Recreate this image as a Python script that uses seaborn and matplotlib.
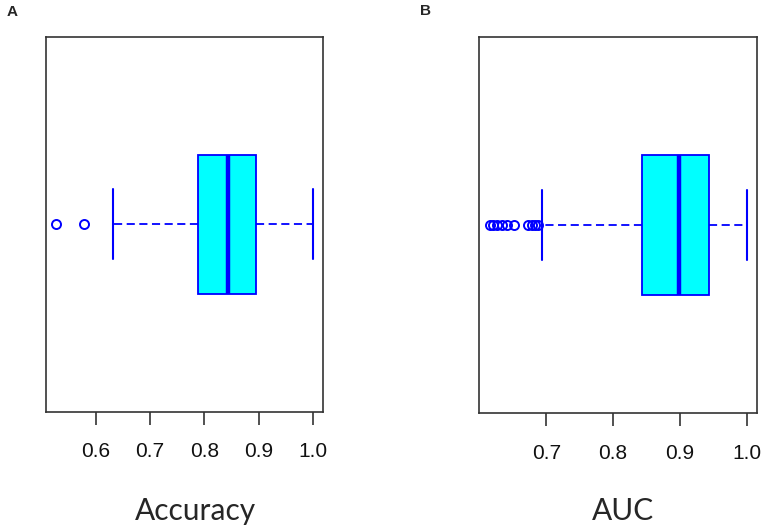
import numpy as np
import pandas as pd
import matplotlib
matplotlib.use("Agg")
import matplotlib.pyplot as plt
import seaborn as sns

# Summary values
acc_outliers = [0.527, 0.579]
acc_whislo, acc_q1, acc_med, acc_q3, acc_whishi = 0.632, 0.789, 0.843, 0.895, 1.0
acc_ticks = [0.6, 0.7, 0.8, 0.9, 1.0]

auc_outliers = [0.615, 0.620, 0.626, 0.633, 0.641, 0.651, 0.673, 0.678, 0.683, 0.688]
auc_whislo, auc_q1, auc_med, auc_q3, auc_whishi = 0.694, 0.843, 0.898, 0.944, 1.0
auc_ticks = [0.7, 0.8, 0.9, 1.0]


def sample_from_summary(outliers, wlo, q1, med, q3, whi):
    # Values whose quartiles/whiskers/outliers equal the read summary
    L = len(outliers) + 1
    return list(outliers) + [wlo] + [q1] * L + [med] * L + [q3] * L + [whi]


sns.set_theme(style="white")
plt.rcParams["font.family"] = ["Liberation Sans", "DejaVu Sans"]

fig = plt.figure(figsize=(7.65, 5.31), dpi=100)
axA = fig.add_axes([46 / 765, 1 - 411.7 / 531, 277 / 765, 375 / 531])
axB = fig.add_axes([479.3 / 765, 1 - 413 / 531, 277.7 / 765, 376 / 531])

panels = [
    (axA, sample_from_summary(acc_outliers, acc_whislo, acc_q1, acc_med, acc_q3, acc_whishi), acc_ticks),
    (axB, sample_from_summary(auc_outliers, auc_whislo, auc_q1, auc_med, auc_q3, auc_whishi), auc_ticks),
]

for ax, vals, ticks in panels:
    df = pd.DataFrame({"value": vals})
    sns.boxplot(
        data=df, x="value", orient="h", ax=ax,
        color="#00FFFF", saturation=1, linecolor="#0000FF", linewidth=1.3,
        width=0.4, whis=1.5, fliersize=6.5,
        whiskerprops={"linestyle": (0, (4.5, 2.5)), "linewidth": 1.3},
        capprops={"linestyle": "-", "linewidth": 1.5},
        medianprops={"linewidth": 3.2, "color": "#0000FF"},
        flierprops={"marker": "o", "markerfacecolor": "none",
                    "markeredgecolor": "#0000FF", "markeredgewidth": 1.4},
    )
    lo, hi = min(vals), max(vals)
    r = hi - lo
    ax.set_xlim(lo - 0.04 * r, hi + 0.04 * r)
    ax.set_ylim(0.54, -0.54)
    ax.set_xticks(ticks)
    ax.set_xticklabels([f"{t:.1f}" for t in ticks],
                       family=["Liberation Sans", "DejaVu Sans"])
    ax.set_yticks([])
    ax.set_xlabel("")
    ax.set_ylabel("")
    for s in ax.spines.values():
        s.set_visible(True)
        s.set_color("#333333")
        s.set_linewidth(1.2)
    ax.tick_params(axis="x", which="major", bottom=True, direction="out",
                   length=9, width=1.2, color="#333333", pad=13,
                   labelsize=15, labelcolor="#111111")

fig.text(12 / 765, 1 - 12.5 / 531, "A", fontsize=11, fontweight="bold",
         family=["Liberation Sans", "DejaVu Sans"], ha="center", va="center")
fig.text(425.5 / 765, 1 - 11 / 531, "B", fontsize=11, fontweight="bold",
         family=["Liberation Sans", "DejaVu Sans"], ha="center", va="center")
fig.text(195 / 765, 1 - 511 / 531, "Accuracy", fontsize=21.5,
         family=["Lato", "DejaVu Sans"], ha="center", va="center")
fig.text(623 / 765, 1 - 511 / 531, "AUC", fontsize=21.5,
         family=["Lato", "DejaVu Sans"], ha="center", va="center")

fig.savefig("out.png", dpi=100)
